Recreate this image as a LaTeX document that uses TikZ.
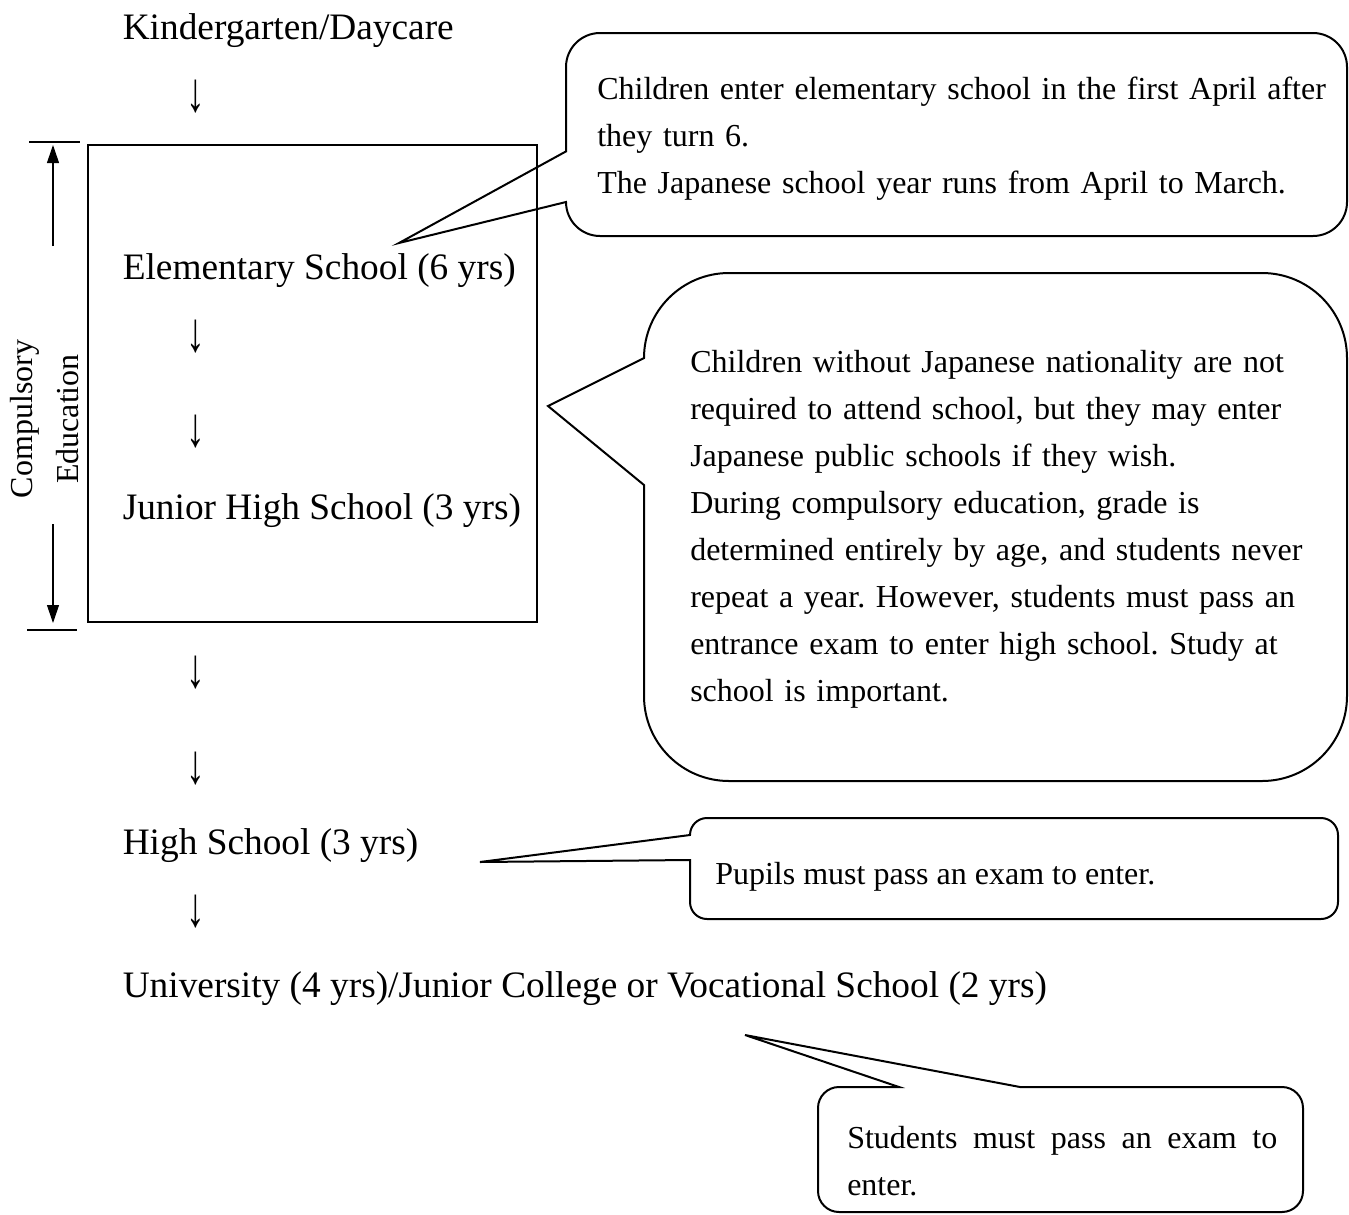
\documentclass[tikz,border=0pt]{standalone}
\usepackage{fontspec}
\setmainfont{Liberation Serif}
\usetikzlibrary{arrows.meta}
\frenchspacing
\begin{document}
\begin{tikzpicture}[x=0.75pt,y=-0.75pt,
  main/.style={anchor=base west,inner sep=0pt,font=\fontsize{28}{34}\selectfont},
  darr/.style={anchor=center,inner sep=0pt,font=\fontsize{28}{34}\selectfont,yscale=1.5,transform shape},
  note/.style={anchor=base west,inner sep=0pt,align=left,font=\fontsize{24}{35.25}\selectfont},
  callout/.style={draw=black,line width=1.5pt},
  frame/.style={draw=black,line width=1.8pt},
  bracket/.style={draw=black,line width=0.8pt},
  brarrow/.style={bracket,-{Triangle[length=13.5pt,width=9pt]}},
]
\useasboundingbox (0,0) rectangle (1349,1214);
\fill[white] (0,0) rectangle (1349,1214);

% main flow
\node[main] (kg) at (122.5,39) {Kindergarten/Daycare};
\node[darr] (a1) at (196,97) {↓};
\node[main] (es) at (122.5,279) {Elementary School (6 yrs)};
\node[darr] (a2) at (196,337) {↓};
\node[darr] (a3) at (196,432) {↓};
\node[main] (jh) at (122.5,519) {Junior High School (3 yrs)};
\node[darr] (a4) at (196,673) {↓};
\node[darr] (a5) at (196,769) {↓};
\node[main] (hs) at (122.5,854) {High School (3 yrs)};
\node[darr] (a6) at (196,912) {↓};
\node[main] (uni) at (122.5,997) {University (4 yrs)/Junior College or Vocational School (2 yrs)};

% compulsory frame
\coordinate (boxnw) at (88,145);
\coordinate (boxse) at (537,622);
\draw[frame] (boxnw) rectangle (boxse);

% bracket
\coordinate (tt1) at (29,142);
\coordinate (tt2) at (80,142);
\coordinate (bt1) at (27,630);
\coordinate (bt2) at (77,630);
\coordinate (up0) at (53,246);
\coordinate (up1) at (53,145);
\coordinate (dn0) at (53,524);
\coordinate (dn1) at (53,623);
\draw[bracket] (tt1) -- (tt2);
\draw[bracket] (bt1) -- (bt2);
\draw[brarrow] (up0) -- (up1);
\draw[brarrow] (dn0) -- (dn1);
\node[rotate=90,align=center,inner sep=0pt,font=\fontsize{24}{34.5}\selectfont] (ce) at (45,419) {Compulsory\\Education};

% callout 1
\coordinate (c1tip) at (399,243);
\draw[callout] (600,33) -- (1313,33) arc[start angle=270,end angle=360,radius=34]
  -- (1347,202) arc[start angle=0,end angle=90,radius=34]
  -- (600,236) arc[start angle=90,end angle=180,radius=34]
  -- (c1tip) -- (566,151.4) -- (566,67) arc[start angle=180,end angle=270,radius=34] -- cycle;
\node[note,text width=560pt] (c1t) at (597,99) {Children enter elementary school in the first April after\\they turn 6.\\The Japanese school year runs from April to March.};

% callout 2
\coordinate (c2tip) at (548,406);
\draw[callout] (729,273) -- (1262,273) arc[start angle=270,end angle=360,radius=85]
  -- (1347,696) arc[start angle=0,end angle=90,radius=85]
  -- (729,781) arc[start angle=90,end angle=180,radius=85]
  -- (644,485) -- (c2tip) -- (644,358) arc[start angle=180,end angle=270,radius=85] -- cycle;
\node[note,text width=480pt] (c2t) at (690,372) {Children without Japanese nationality are not\\required to attend school, but they may enter\\Japanese public schools if they wish.\\During compulsory education, grade is\\determined entirely by age, and students never\\repeat a year. However, students must pass an\\entrance exam to enter high school. Study at\\school is important.};

% callout 3
\coordinate (c3tip) at (480,862);
\draw[callout] (707,818) -- (1321,818) arc[start angle=270,end angle=360,radius=17]
  -- (1338,902) arc[start angle=0,end angle=90,radius=17]
  -- (707,919) arc[start angle=90,end angle=180,radius=17]
  -- (690,860) -- (c3tip) -- (690,835) arc[start angle=180,end angle=270,radius=17] -- cycle;
\node[note] (c3t) at (715,884) {Pupils must pass an exam to enter.};

% callout 4
\coordinate (c4tip) at (745,1035);
\draw[callout] (839,1087) -- (899,1087) -- (c4tip) -- (1020,1087)
  -- (1282,1087) arc[start angle=270,end angle=360,radius=21]
  -- (1303,1191) arc[start angle=0,end angle=90,radius=21]
  -- (839,1212) arc[start angle=90,end angle=180,radius=21]
  -- (818,1108) arc[start angle=180,end angle=270,radius=21] -- cycle;
\node[note,align=justify,text width=322.5pt] (c4t) at (847,1148) {\hyphenpenalty=10000 \exhyphenpenalty=10000 Students must pass an exam to enter.\par};
\end{tikzpicture}
\end{document}
